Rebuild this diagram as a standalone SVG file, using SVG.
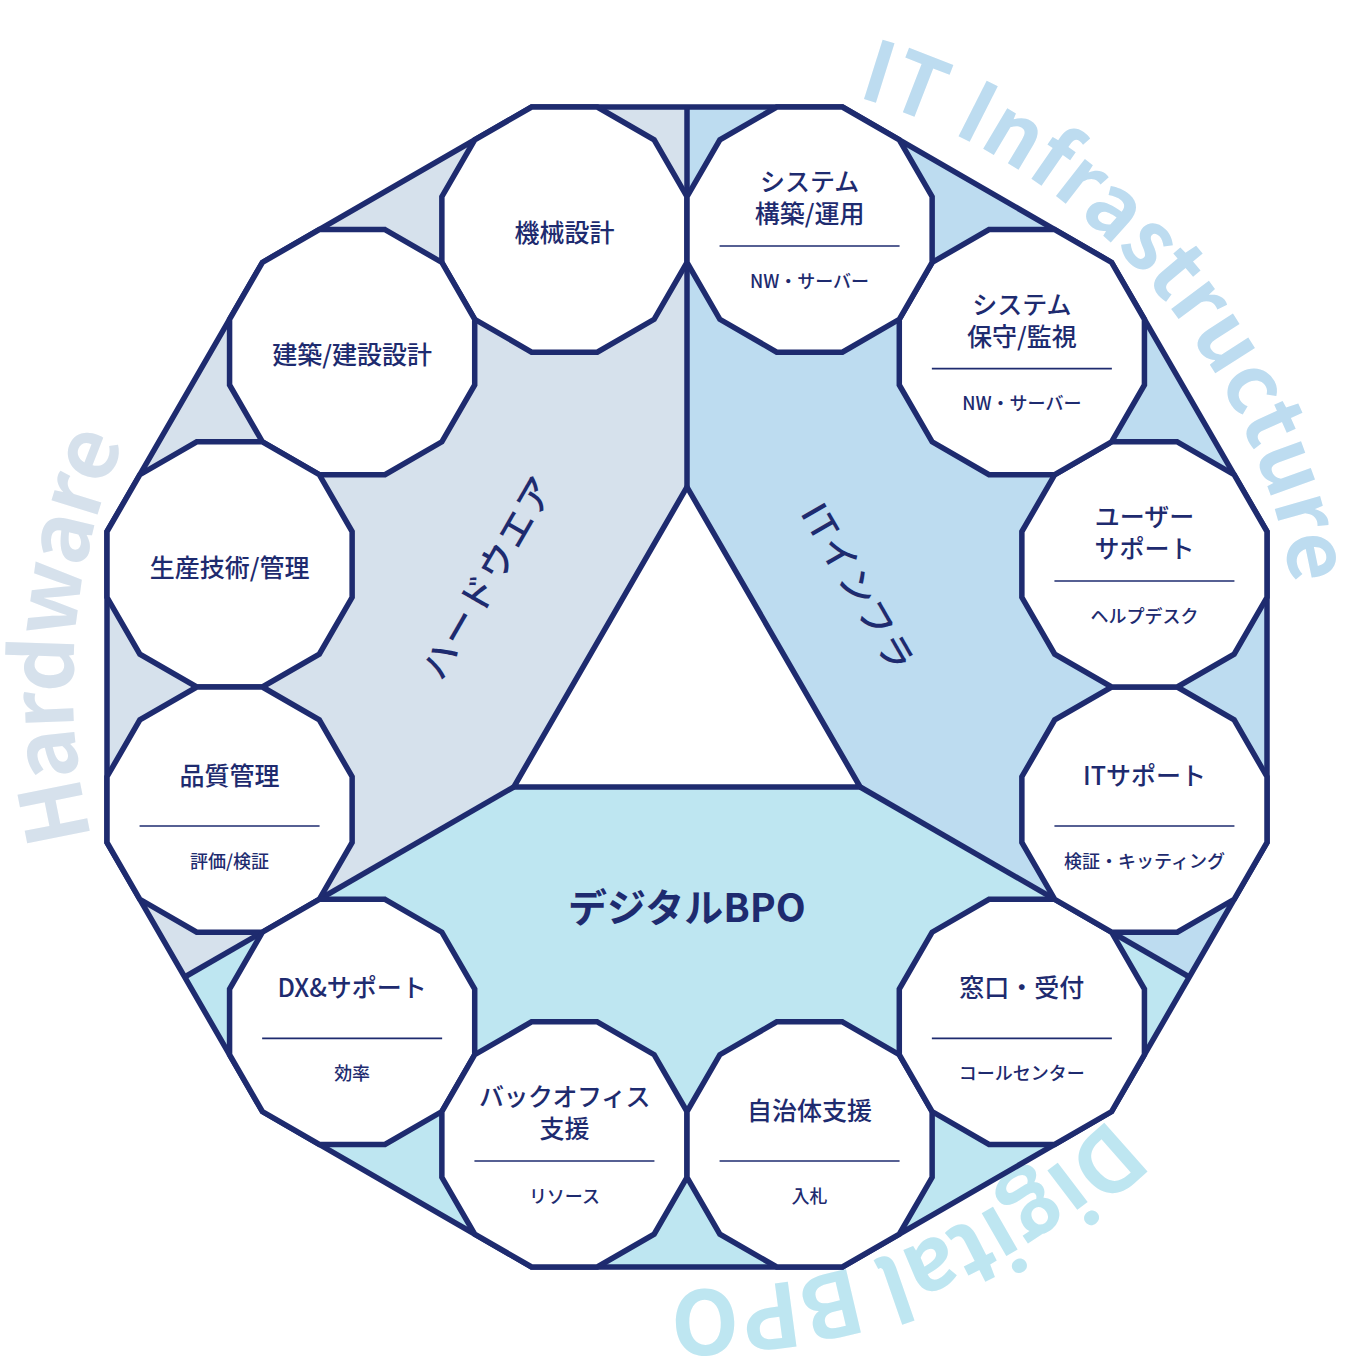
<svg xmlns="http://www.w3.org/2000/svg" xmlns:xlink="http://www.w3.org/1999/xlink" width="1365" height="1368" viewBox="0 0 1365 1368">
<defs>
<style>
.nd{fill:#ffffff;stroke:#1e2b6f;stroke-width:5.5;stroke-linejoin:miter}
.ln{fill:none;stroke:#1e2b6f;stroke-width:5.5;stroke-linejoin:miter}
.dv{stroke:#1e2b6f;stroke-width:1.6}
.t{font-family:"Noto Sans CJK JP","Noto Sans",sans-serif;font-size:25px;font-weight:500;fill:#1e2b6f;text-anchor:middle}
.s{font-family:"Noto Sans CJK JP","Noto Sans",sans-serif;font-size:18px;font-weight:500;fill:#1e2b6f;text-anchor:middle}
.sec{font-family:"Noto Sans CJK JP","Noto Sans",sans-serif;font-size:36px;font-weight:500;fill:#1e2b6f;text-anchor:middle;letter-spacing:2px}
.big{font-family:"Noto Sans CJK JP","Noto Sans",sans-serif;font-size:84px;font-weight:700;text-anchor:middle}
</style>
<polygon id="dd" points="32.84,-122.57 89.72,-89.72 122.57,-32.84 122.57,32.84 89.72,89.72 32.84,122.57 -32.84,122.57 -89.72,89.72 -122.57,32.84 -122.57,-32.84 -89.72,-89.72 -32.84,-122.57"/>
<path id="arcA" d="M687,73 A614,614 0 0 1 1301,687 A614,614 0 0 1 687,1301 A614,614 0 0 1 73,687 A614,614 0 0 1 687,73"/>
<path id="arcB" d="M687,84 A603,603 0 0 1 1290,687 A603,603 0 0 1 687,1290 A603,603 0 0 1 84,687 A603,603 0 0 1 687,84"/>
</defs>

<g id="sectors">
<polygon fill="#d6e1ec" points="687,487 687,107 531.6,107 262.4,262.4 107,531.6 107,842.4 184.7,977 513.8,787"/>
<polygon fill="#bddcf0" points="687,487 687,107 842.4,107 1111.6,262.4 1267,531.6 1267,842.4 1189.3,977 860.2,787"/>
<polygon fill="#bee6f1" points="513.8,787 184.7,977 262.4,1111.6 531.6,1267 842.4,1267 1111.6,1111.6 1189.3,977 860.2,787"/>
</g>

<g id="arc-labels">
<text class="big" fill="#bddcf0" style="letter-spacing:0.8px"><textPath href="#arcA" startOffset="517.6">IT Infrastructure</textPath></text>
<text class="big" fill="#bee6f1" style="font-size:88px;letter-spacing:-0.5px"><textPath href="#arcB" startOffset="1668">Digital BPO</textPath></text>
<text class="big" fill="#d6e1ec" style="font-size:86px;letter-spacing:-1.8px"><textPath href="#arcA" startOffset="2942">Hardware</textPath></text>
</g>

<g id="connectors">
<polygon class="ln" points="531.6,107 842.4,107 1111.6,262.4 1267,531.6 1267,842.4 1111.6,1111.6 842.4,1267 531.6,1267 262.4,1111.6 107,842.4 107,531.6 262.4,262.4"/>
<line class="ln" x1="687" y1="487" x2="687" y2="107"/>
<line class="ln" x1="513.8" y1="787" x2="184.7" y2="977"/>
<line class="ln" x1="860.2" y1="787" x2="1189.3" y2="977"/>
<polygon class="ln" points="687,487 860.2,787 513.8,787"/>
</g>

<g id="node-kikai">
<use href="#dd" class="nd" x="564.43" y="229.57"/>
<text class="t" x="564.43" y="241.5">機械設計</text>
</g>
<g id="node-kenchiku">
<use href="#dd" class="nd" x="352.14" y="352.14"/>
<text class="t" x="352.14" y="364">建築/建設設計</text>
</g>
<g id="node-seisan">
<use href="#dd" class="nd" x="229.57" y="564.43"/>
<text class="t" x="229.57" y="577">生産技術/管理</text>
</g>
<g id="node-hinshitsu">
<use href="#dd" class="nd" x="229.57" y="809.57"/>
<text class="t" x="229.57" y="785">品質管理</text>
<line class="dv" x1="139.57" y1="826" x2="319.57" y2="826"/>
<text class="s" x="229.57" y="867.5">評価/検証</text>
</g>
<g id="node-dx">
<use href="#dd" class="nd" x="352.14" y="1021.86"/>
<text class="t" x="352.14" y="997.4">DX&amp;サポート</text>
<line class="dv" x1="262.14" y1="1038.4" x2="442.14" y2="1038.4"/>
<text class="s" x="352.14" y="1080">効率</text>
</g>
<g id="node-backoffice">
<use href="#dd" class="nd" x="564.43" y="1144.43"/>
<text class="t" x="564.43" y="1106" style="letter-spacing:-0.5px">バックオフィス</text>
<text class="t" x="564.43" y="1138">支援</text>
<line class="dv" x1="474.43" y1="1161" x2="654.43" y2="1161"/>
<text class="s" x="564.43" y="1202.5">リソース</text>
</g>
<g id="node-jichitai">
<use href="#dd" class="nd" x="809.57" y="1144.43"/>
<text class="t" x="809.57" y="1120">自治体支援</text>
<line class="dv" x1="719.57" y1="1161" x2="899.57" y2="1161"/>
<text class="s" x="809.57" y="1202.5">入札</text>
</g>
<g id="node-madoguchi">
<use href="#dd" class="nd" x="1021.86" y="1021.86"/>
<text class="t" x="1021.86" y="997.4">窓口・受付</text>
<line class="dv" x1="931.86" y1="1038.4" x2="1111.86" y2="1038.4"/>
<text class="s" x="1021.86" y="1080">コールセンター</text>
</g>
<g id="node-itsupport">
<use href="#dd" class="nd" x="1144.43" y="809.57"/>
<text class="t" x="1144.43" y="785">ITサポート</text>
<line class="dv" x1="1054.43" y1="826" x2="1234.43" y2="826"/>
<text class="s" x="1144.43" y="867.5">検証・キッティング</text>
</g>
<g id="node-usersupport">
<use href="#dd" class="nd" x="1144.43" y="564.43"/>
<text class="t" x="1144.43" y="526">ユーザー</text>
<text class="t" x="1144.43" y="558">サポート</text>
<line class="dv" x1="1054.43" y1="581" x2="1234.43" y2="581"/>
<text class="s" x="1144.43" y="622.5">ヘルプデスク</text>
</g>
<g id="node-hoshu">
<use href="#dd" class="nd" x="1021.86" y="352.14"/>
<text class="t" x="1021.86" y="313.6">システム</text>
<text class="t" x="1021.86" y="345.6">保守/監視</text>
<line class="dv" x1="931.86" y1="368.6" x2="1111.86" y2="368.6"/>
<text class="s" x="1021.86" y="410">NW・サーバー</text>
</g>
<g id="node-kouchiku">
<use href="#dd" class="nd" x="809.57" y="229.57"/>
<text class="t" x="809.57" y="191">システム</text>
<text class="t" x="809.57" y="223">構築/運用</text>
<line class="dv" x1="719.57" y1="246" x2="899.57" y2="246"/>
<text class="s" x="809.57" y="287.5">NW・サーバー</text>
</g>

<g id="sector-labels">
<text class="sec" transform="translate(488,577) rotate(-60)" y="13">ハードウエア</text>
<text class="sec" transform="translate(858,588) rotate(60)" y="13">ITインフラ</text>
<text class="sec" style="font-size:39px;font-weight:700;letter-spacing:0" x="687" y="922">デジタルBPO</text>
</g>
</svg>
